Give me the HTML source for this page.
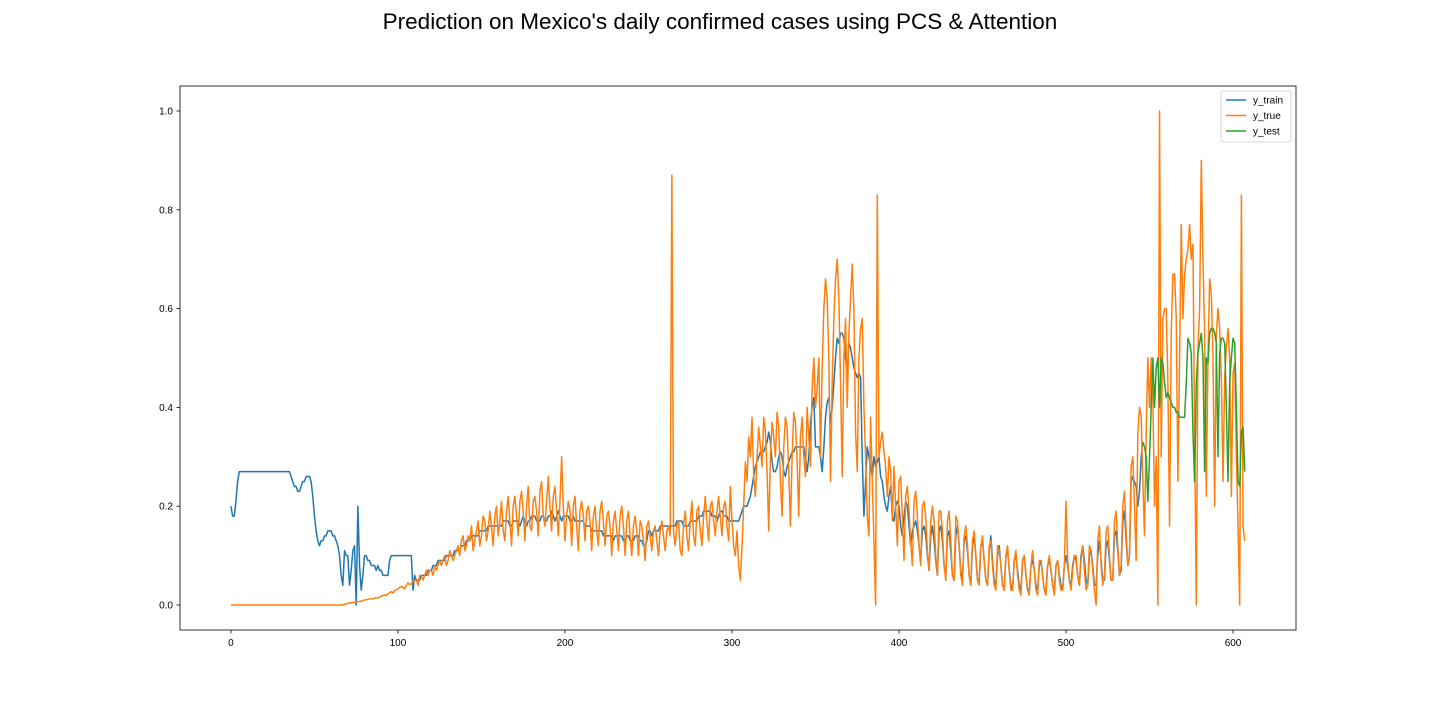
<!DOCTYPE html>
<html><head><meta charset="utf-8"><style>
html,body{margin:0;padding:0;background:#fff;}
svg{display:block;font-family:"Liberation Sans","DejaVu Sans",sans-serif;}
</style></head><body>
<svg id="chart" width="1440" height="720" xmlns="http://www.w3.org/2000/svg">
<text x="720" y="29" text-anchor="middle" font-size="22.5" fill="#000">Prediction on Mexico's daily confirmed cases using PCS &amp; Attention</text>
<g id="series"></g>
<g id="axes"></g>
<g id="legend"></g>
</svg>
<script>
const xTicks = [0,100,200,300,400,500,600];
const yTicks = [0.0,0.2,0.4,0.6,0.8,1.0];
const yTickLabels = ["0.0","0.2","0.4","0.6","0.8","1.0"];
const seriesNames = ["y_train","y_true","y_test"];
// values in hundredths
const yTrue = [0,0,0,0,0,0,0,0,0,0,0,0,0,0,0,0,0,0,0,0,0,0,0,0,0,0,0,0,0,0,0,0,0,0,0,0,0,0,0,0,0,0,0,0,0,0,0,0,0,0,0,0,0,0,0,0,0,0,0,0,
0,0,0,0,0,0,0,0.1,0.1,0.2, 0.3,0.4,0.4,0.5,0.5,0.6,0.7,0.7,0.8,0.9, 1,1.1,1.1,1.2,1.3,1.2,1.4,1.5,1.4,1.6, 1.8,1.9,2.1,1.9,2.2,2.5,2.7,2.4,2.9,3.1,
3.2,3.6,3.8,3.5,3.3,4,4.5,4.1,4.3,4.8, 5,5,4,6,6,5,6,7,6,7, 7,6,8,7,8,9,8,9,10,8, 9,11,10,9,10,11,12,10,13,14,
11,12,14,13,16,11,13,15,17,12, 14,18,17,13,15,19,16,12,18,20, 14,17,21,15,13,19,22,17,12,20, 22,18,14,21,23,19,13,20,24,16,
15,21,22,19,14,23,25,18,16,21, 26,20,15,22,24,19,14,21,30,20, 13,18,21,19,12,20,22,16,11,19, 21,18,13,19,20,17,11,18,20,15,
12,19,21,17,12,18,19,16,10,17, 19,15,11,18,20,16,10,17,19,14, 10,16,18,15,10,17,16,13,9,16, 17,14,11,15,16,13,10,15,17,14,
11,15,16,14,87,15,12,16,17,11, 10,16,19,14,11,17,21,14,12,19, 20,15,12,18,22,17,13,20,21,17, 14,19,22,18,14,20,21,16,13,24,
17,12,10,15,8,5,12,20,29,25, 34,30,38,26,22,30,36,32,28,38, 35,27,15,30,37,34,30,39,36,25, 18,32,38,36,27,16,30,39,37,29,
18,34,38,30,26,40,34,28,44,50, 40,44,50,30,48,60,66,62,50,25, 45,58,66,70,62,45,26,50,58,40, 55,62,69,60,35,27,50,56,58,40,
30,18,14,38,25,13,0,83,30,33, 35,31,28,22,30,27,17,28,20,12, 25,26,18,9,22,24,19,13,8,21, 23,18,12,8,20,21,18,11,7,17,
20,17,10,6,19,19,15,8,5,17, 19,13,6,5,18,17,12,6,4,14, 16,12,6,4,13,15,10,5,4,12, 14,9,5,4,12,13,8,4,3,12,
11,8,4,3,10,12,7,3,3,9, 11,6,3,2,9,10,6,3,2,8, 11,7,3,2,9,9,6,3,2,8, 10,7,4,2,8,9,5,3,3,8,
21,9,5,3,7,10,10,6,4,9, 12,7,3,4,12,11,7,3,0,13, 16,8,4,6,15,16,10,5,5,17, 19,12,6,8,20,23,15,8,10,28,
30,20,9,35,40,38,25,14,35,50, 40,50,42,20,30,0,100,30,58,60, 60,45,16,55,67,67,58,25,50,77, 58,67,70,72,77,70,73,35,0,52,
60,90,70,55,22,50,66,63,50,20, 55,60,56,46,25,46,52,56,50,22, 47,49,30,16,0,83,16,13];
const yTrain = [20,18,18,21,25,27,27,27,27,27, 27,27,27,27,27,27,27,27,27,27, 27,27,27,27,27,27,27,27,27,27, 27,27,27,27,27,27,26,25,24,24,
23,23,24,25,25,26,26,26,25,22, 18,15,13,12,13,13,14,14,15,15, 15,14,14,13,12,10,6,4,11,10, 10,4,7,11,12,0,20,8,3,6,
10,10,9,9,8,8,8,7,8,7, 7,6,6,6,6,9,10,10,10,10, 10,10,10,10,10,10,10,10,10,3, 6,5,5,5,6,6,6,6,7,7,
7,8,8,8,9,9,9,9,9,10, 10,10,10,10,11,11,11,11,12,12, 12,13,13,13,14,14,14,14,14,15, 15,15,15,15,16,16,16,16,16,16,
16,16,16,17,17,17,17,16,16,17, 17,17,17,16,17,18,17,16,17,17, 18,18,18,17,17,17,18,18,17,17, 18,18,19,18,17,18,19,18,17,18,
18,18,18,17,17,18,17,17,17,17, 17,17,16,16,16,16,15,15,15,15, 15,15,15,14,14,14,14,14,14,13, 14,14,14,14,14,13,13,14,14,13,
13,13,14,14,14,13,13,12,12,13, 15,15,14,15,15,15,15,16,16,16, 16,16,16,16,16,16,16,17,17,17, 17,16,16,16,16,17,17,17,17,17,
18,18,18,19,19,19,19,19,18,18, 18,17,18,19,19,18,18,18,17,17, 17,17,17,17,17,18,19,20,20,20, 21,22,24,26,28,29,30,31,31,31,
32,33,35,33,29,27,27,28,30,31, 30,27,26,28,29,30,31,31,32,32, 32,32,32,32,30,27,30,37,40,42, 32,32,32,30,27,32,38,41,42,37,
40,45,50,54,53,55,55,54,50,47, 53,52,50,48,47,46,47,46,30,18, 25,32,30,28,26,30,28,29,30,26, 25,22,20,19,22,24,18,17,20,21,
20,16,14,18,21,20,16,12,15,16, 17,15,12,9,15,16,14,10,7,14, 16,13,9,6,15,16,13,8,6,14, 15,11,6,5,14,16,12,7,5,13,
14,11,6,4,12,14,10,5,5,12, 13,9,5,4,11,14,9,5,4,10, 12,8,4,3,10,11,7,4,3,9, 10,7,4,3,9,10,6,3,3,8,
9,7,4,3,8,9,6,3,3,8, 9,7,4,3,8,9,6,4,3,8, 10,8,5,4,8,10,9,6,4,10, 12,9,5,4,10,11,8,4,4,10,
13,9,5,5,12,13,9,5,5,14, 15,11,6,7,17,19,13,8,10,25, 26,25,24,20,23,30,33];
const testStart = 546;
const yTest = [33,32,30,21,30,40,50,40,48,50, 40,50,49,45,42,43,42,41,40,40, 39,39,38,38,38,38,45,54,53,51, 35,25,45,51,53,55,50,27,50,49, 55,56,56,55,53,30,51,54,54,53, 40,25,45,50,54,53,40,25,24,35, 36,27];

const L=180,R=1296,T=86,B=630;
const xMin=-30.5,xMax=637.7,yMin=-0.0506,yMax=1.0506;
const sx=v=>L+(v-xMin)/(xMax-xMin)*(R-L);
const sy=v=>B-(v-yMin)/(yMax-yMin)*(B-T);
const NS="http://www.w3.org/2000/svg";
const mk=(t,a,p)=>{const e=document.createElementNS(NS,t);for(const k in a)e.setAttribute(k,a[k]);p.appendChild(e);return e;};
const series=document.getElementById('series'),axes=document.getElementById('axes'),legend=document.getElementById('legend');
function line(vals,start,color,name){
  const pts=vals.map((v,i)=>sx(start+i).toFixed(2)+","+sy(v/100).toFixed(2)).join(" ");
  const p=mk('polyline',{points:pts,fill:"none",stroke:color,"stroke-width":1.5,"stroke-linejoin":"round"},series);
  
  
}
line(yTrain,0,"#1f77b4","y-train-line");
line(yTrue,0,"#ff7f0e","y-true-line");
line(yTest,testStart,"#2ca02c","y-test-line");
const frame=mk('rect',{x:L,y:T,width:R-L,height:B-T,fill:"none",stroke:"#000","stroke-width":0.8},axes);


xTicks.forEach(v=>{
  const x=sx(v);
  const tk=mk('line',{x1:x,x2:x,y1:B,y2:B+3.5,stroke:"#000","stroke-width":0.8},axes);
  
  
  const t=mk('text',{x:x,y:B+16,"text-anchor":"middle","font-size":10,fill:"#000"},axes);
  t.textContent=v;
  
  
});
yTicks.forEach((v,i)=>{
  const y=sy(v);
  const tk=mk('line',{x1:L-3.5,x2:L,y1:y,y2:y,stroke:"#000","stroke-width":0.8},axes);
  
  
  const t=mk('text',{x:L-7,y:y+3.5,"text-anchor":"end","font-size":10,fill:"#000"},axes);
  t.textContent=yTickLabels[i];
  
  
});
const lb=mk('rect',{x:1221,y:91,width:70,height:51,rx:2,fill:"#fff",stroke:"#ccc","stroke-width":0.8},legend);


const cols=["#1f77b4","#ff7f0e","#2ca02c"];
seriesNames.forEach((n,i)=>{
  const y=100+i*15.5;
  const ln=mk('line',{x1:1226,x2:1246,y1:y,y2:y,stroke:cols[i],"stroke-width":1.5},legend);
  
  
  const t=mk('text',{x:1253,y:y+3.5,"font-size":10,fill:"#000"},legend);
  t.textContent=n;
  
  
});
</script>
</body></html>
